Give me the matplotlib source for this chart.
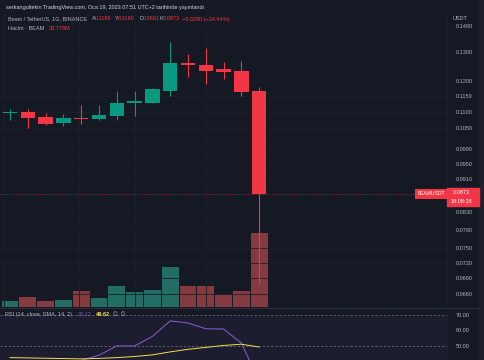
import numpy as np
import matplotlib
matplotlib.use("Agg")
import matplotlib.pyplot as plt
from matplotlib.patches import Rectangle
from matplotlib.ticker import FixedLocator, FixedFormatter, NullLocator

plt.rcParams['font.family'] = ['Liberation Sans', 'DejaVu Sans']

# ── data (BEAM/USDT, 1h candles) ────────────────────────────
opens  = [0.1097, 0.1098, 0.1083, 0.1065, 0.1080, 0.1077, 0.1088, 0.1128,
          0.1128, 0.1166, 0.1260, 0.1254, 0.1238, 0.1233, 0.1165]
highs  = [0.1109, 0.1109, 0.1095, 0.1093, 0.1120, 0.1120, 0.1166, 0.1166,
          0.1176, 0.1337, 0.1292, 0.1314, 0.1264, 0.1266, 0.1180]
lows   = [0.1076, 0.1052, 0.1059, 0.1057, 0.1064, 0.1076, 0.1076, 0.1088,
          0.1127, 0.1149, 0.1213, 0.1189, 0.1205, 0.1150, 0.0681]
closes = [0.1100, 0.1080, 0.1064, 0.1082, 0.1077, 0.1091, 0.1128, 0.1133,
          0.1173, 0.1261, 0.1253, 0.1232, 0.1230, 0.1163, 0.0873]
volumes = [2.7, 4.6, 2.9, 3.1, 7.4, 4.0, 9.7, 6.7, 7.6, 18.3, 9.7, 9.4,
           5.6, 7.2, 33.779]   # millions
rsi    = [39.0, 36.0, 33.0, 37.0, 41.2, 44.5, 50.3, 50.3, 56.3, 66.0,
          64.7, 61.1, 60.9, 52.1, 28.12]
rsi_ma = [43.0, 42.8, 42.6, 42.4, 42.2, 42.5, 43.0, 43.7, 44.7, 46.6,
          48.2, 49.4, 50.6, 51.4, 49.62]

price_ticks = [0.1400, 0.1300, 0.1200, 0.1150, 0.1100, 0.1050, 0.0990, 0.0950,
               0.0910, 0.0830, 0.0790, 0.0750, 0.0720, 0.0690, 0.0660]
rsi_ticks = [70, 60, 50]

# ── colours ────────────────────────────────────────────────
BG    = '#151924'
GRID  = '#1b1f2b'
TXT   = '#b2b5be'
UP    = '#089981'
DOWN  = '#f23645'
UP_V  = '#226e64'
DN_V  = '#843a3f'
PURP  = '#7e57c2'
YEL   = '#f5e04a'

W, H = 485, 360
fig = plt.figure(figsize=(W / 100, H / 100), dpi=100, facecolor=BG)

def fx(x):
    return x / W

def fy(y):
    return 1 - y / H

# ═══════════════════════════════════════════════════════════
#  main price pane
# ═══════════════════════════════════════════════════════════
ax = fig.add_axes([0, fy(307), fx(447), (307 - 13) / H])
ax.set_yscale('log')
ax.set_xlim(-0.562, 24.55)
ax.set_ylim(0.06365, 0.1450)

# volume overlay (behind the candles)
axv = ax.twinx()
axv.set_ylim(0, 134.2)
idx = np.arange(len(opens))
vcols = [UP_V if c >= o else DN_V for o, c in zip(opens, closes)]
axv.bar(idx, volumes, width=0.95, color=vcols, zorder=2)
axv.axis('off')
ax.set_zorder(axv.get_zorder() + 1)
ax.patch.set_visible(False)
fig.patches.append(Rectangle((0, fy(307)), fx(447), (307 - 13) / H,
                             transform=fig.transFigure, color=BG, zorder=-10))

for i in idx:
    up = closes[i] >= opens[i]
    c = UP if up else DOWN
    ax.vlines(i, lows[i], highs[i], color=c, lw=0.8, zorder=3)
    lo, hi = sorted([opens[i], closes[i]])
    if hi / lo < 1.003:
        hi = lo * 1.003
    ax.bar(i, hi - lo, bottom=lo, width=0.8, color=c, zorder=4)

ax.axhline(closes[-1], color=DOWN, ls=':', lw=0.6, alpha=0.7, zorder=2)

ax.yaxis.tick_right()
ax.yaxis.set_major_locator(FixedLocator(price_ticks))
ax.yaxis.set_major_formatter(FixedFormatter([f'{t:.4f}' for t in price_ticks]))
ax.yaxis.set_minor_locator(NullLocator())
ax.tick_params(axis='y', which='both', length=0, pad=6, labelsize=4, labelcolor=TXT,
               left=False, labelleft=False, right=False, labelright=True)
ax.tick_params(axis='x', length=0, labelbottom=False)
ax.grid(axis='y', color=GRID, lw=0.6)
for gx in [-0.34, 3.9, 7.0, 11.0]:
    ax.axvline(gx, color=GRID, lw=0.6, zorder=0)
for s in ax.spines.values():
    s.set_visible(False)

# ═══════════════════════════════════════════════════════════
#  RSI pane
# ═══════════════════════════════════════════════════════════
ar = fig.add_axes([0, 0, fx(447), 52.5 / H])
ar.set_facecolor(BG)
ar.set_xlim(ax.get_xlim())
ar.set_ylim(41.5, 74.4)
ar.axhspan(30, 70, color=PURP, alpha=0.08, lw=0)
ar.axhline(70, color='#787b86', ls=(0, (3, 3)), lw=0.5)
ar.axhline(50, color='#787b86', ls=(0, (3, 3)), lw=0.5)
ar.plot(idx, rsi, color=PURP, lw=0.8)
ar.plot(idx, rsi_ma, color=YEL, lw=0.7)
ar.yaxis.tick_right()
ar.yaxis.set_major_locator(FixedLocator(rsi_ticks))
ar.yaxis.set_major_formatter(FixedFormatter([f'{t:.2f}' for t in rsi_ticks]))
ar.tick_params(axis='y', length=0, pad=6, labelsize=4, labelcolor=TXT)
ar.tick_params(axis='x', length=0, labelbottom=False)
for s in ar.spines.values():
    s.set_visible(False)
fig.add_artist(plt.Line2D([0, fx(479)], [fy(307.5)] * 2, color='#2a2e39', lw=0.8))

# right edge strip + pane separator
fig.add_artist(Rectangle((fx(479), 0), fx(6), 1, transform=fig.transFigure,
                         color='#1d212c', zorder=0))
fig.add_artist(plt.Line2D([fx(447)] * 2, [0, fy(13)], color='#1d212c', lw=0.6))

# ═══════════════════════════════════════════════════════════
#  texts
# ═══════════════════════════════════════════════════════════
fs = 4
fig.text(fx(6), fy(7), 'serkangultekin TradingView.com, Oca 19, 2023 07:51 UTC+2 tarihinde yayınlandı',
         color='#d1d4dc', fontsize=fs, va='center')

row = fy(19)
fig.text(fx(8), row, 'Beam / TetherUS, 1G, BINANCE', color=TXT, fontsize=fs, va='center')
for lab, val, x in [('A', opens[-1], 92), ('Y', highs[-1], 115),
                    ('D', lows[-1], 140), ('K', closes[-1], 160)]:
    fig.text(fx(x), row, lab, color=TXT, fontsize=fs, va='center')
    fig.text(fx(x + 3), row, f'{val:.4f}', color=DOWN, fontsize=fs, va='center')
chg = closes[-1] - closes[-2]
fig.text(fx(182), row, f'\u2212{abs(chg):.4f} (\u2212{abs(chg) / closes[-2] * 100:.2f}%)',
         color=DOWN, fontsize=fs, va='center')

fig.text(fx(8), fy(28), 'Hacim · BEAM', color=TXT, fontsize=fs, va='center')
fig.text(fx(49), fy(28), f'{volumes[-1]:.3f}M', color=DOWN, fontsize=fs, va='center')

fig.text(fx(453), fy(18), 'USDT', color=TXT, fontsize=fs, va='center',
         bbox=dict(boxstyle='square,pad=0.6', fc=BG, ec='none'))

# last price labels
fig.text(fx(431), fy(193.5), 'BEAMUSDT', color='white', fontsize=3.6, va='center',
         ha='center', bbox=dict(boxstyle='square,pad=0.5', fc=DOWN, ec='none'))
fig.add_artist(Rectangle((fx(447), fy(206)), fx(32), 18 / H, transform=fig.transFigure,
                         color=DOWN, zorder=5))
fig.text(fx(453), fy(193), f'{closes[-1]:.4f}', color='white', fontsize=fs, va='center', zorder=6)
fig.text(fx(451), fy(201.5), '18:08:38', color='white', fontsize=fs, va='center', zorder=6)

# RSI legend
rrow = fy(314.5)
fig.text(fx(5), rrow, 'RSI (14, close, SMA, 14, 2)', color=TXT, fontsize=fs, va='center')
fig.text(fx(78), rrow, f'{rsi[-1]:.2f}', color=PURP, fontsize=fs, va='center')
fig.text(fx(96), rrow, f'{rsi_ma[-1]:.2f}', color=YEL, fontsize=fs, va='center', fontweight='bold')
fig.text(fx(113), rrow, '\u2205  \u2205', color=TXT, fontsize=fs, va='center')

fig.savefig('out.png', dpi=100, facecolor=BG)
